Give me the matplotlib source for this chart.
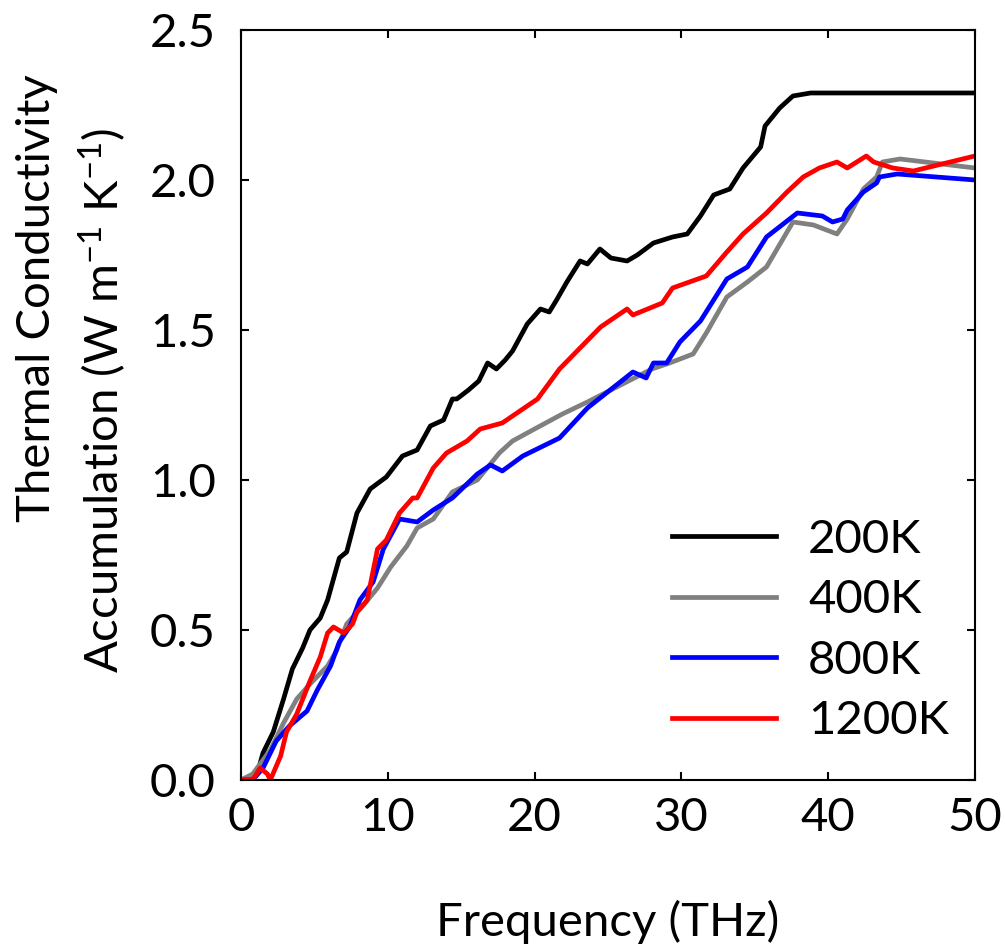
import matplotlib
matplotlib.use("Agg")
import matplotlib.pyplot as plt

plt.rcParams['font.family'] = ['Lato', 'DejaVu Sans']
plt.rcParams['mathtext.default'] = 'regular'

# 200K
x_200 = [0, 0.6, 1.1, 1.5, 2.2, 2.9, 3.5, 4.2, 4.7, 5.4, 5.9, 6.7, 7.2, 7.9, 8.8,
         9.9, 11.0, 12.0, 12.9, 13.8, 14.4, 14.7, 15.5, 16.2, 16.8, 17.4, 18.0,
         18.5, 19.5, 20.4, 21.0, 21.5, 22.2, 23.1, 23.6, 24.45, 25.2, 26.3, 27.0,
         28.1, 29.4, 30.4, 31.3, 32.2, 33.3, 34.2, 35.4, 35.7, 36.7, 37.6, 38.8,
         40, 45, 50]
y_200 = [0, 0, 0.02, 0.09, 0.16, 0.27, 0.37, 0.44, 0.50, 0.54, 0.60, 0.74, 0.76,
         0.89, 0.97, 1.01, 1.08, 1.10, 1.18, 1.20, 1.27, 1.27, 1.30, 1.33, 1.39,
         1.37, 1.40, 1.43, 1.52, 1.57, 1.56, 1.60, 1.66, 1.73, 1.72, 1.77, 1.74,
         1.73, 1.75, 1.79, 1.81, 1.82, 1.88, 1.95, 1.97, 2.04, 2.11, 2.18, 2.24,
         2.28, 2.29, 2.29, 2.29, 2.29]

# 400K
x_400 = [0, 0.8, 2.0, 2.9, 3.8, 4.7, 5.9, 6.5, 7.2, 8.3, 9.3, 10.2, 11.3, 12.0,
         13.1, 14.4, 16.1, 17.6, 18.5, 20.0, 21.9, 23.6, 26.0, 28.0, 29.2, 30.8,
         31.7, 33.1, 34.5, 35.8, 37.6, 39.0, 40.6, 41.3, 42.4, 43.3, 43.7, 44.9, 50]
y_400 = [0, 0.02, 0.10, 0.19, 0.27, 0.32, 0.38, 0.43, 0.52, 0.58, 0.64, 0.71,
         0.78, 0.84, 0.87, 0.96, 1.00, 1.09, 1.13, 1.17, 1.22, 1.26, 1.32, 1.37,
         1.39, 1.42, 1.49, 1.61, 1.66, 1.71, 1.86, 1.85, 1.82, 1.87, 1.97, 2.01,
         2.06, 2.07, 2.04]

# 800K
x_800 = [0, 0.8, 1.5, 2.4, 3.3, 4.5, 5.2, 6.1, 6.7, 7.4, 8.1, 9.0, 9.7, 10.8,
         12.0, 13.1, 14.4, 16.1, 17.0, 17.8, 19.2, 21.7, 23.6, 26.7, 27.6, 28.1,
         29.0, 29.9, 31.3, 33.1, 34.5, 35.8, 37.9, 39.6, 40.3, 41.0, 41.3, 42.4,
         43.3, 43.5, 44.7, 50]
y_800 = [0, 0, 0.04, 0.13, 0.18, 0.23, 0.30, 0.38, 0.46, 0.51, 0.60, 0.66, 0.77,
         0.87, 0.86, 0.90, 0.94, 1.02, 1.05, 1.03, 1.08, 1.14, 1.24, 1.36, 1.34,
         1.39, 1.39, 1.46, 1.53, 1.67, 1.71, 1.81, 1.89, 1.88, 1.86, 1.87, 1.90,
         1.96, 1.99, 2.01, 2.02, 2.00]

# 1200K
x_1200 = [0, 0.8, 1.3, 1.8, 2.0, 2.7, 3.1, 3.8, 4.7, 5.4, 5.9, 6.3, 7.0, 7.6,
          7.9, 8.6, 9.3, 9.9, 10.8, 11.7, 12.0, 13.1, 14.0, 15.4, 16.3, 17.8,
          19.0, 20.2, 21.7, 23.1, 24.5, 26.3, 26.7, 28.7, 29.4, 31.7, 33.1, 34.2,
          35.8, 37.2, 38.3, 39.4, 40.6, 41.3, 42.6, 43.1, 44.4, 45.8, 50]
y_1200 = [0, 0, 0.04, 0.02, 0.0, 0.08, 0.16, 0.22, 0.33, 0.41, 0.49, 0.51, 0.49,
          0.52, 0.56, 0.60, 0.77, 0.80, 0.89, 0.94, 0.94, 1.04, 1.09, 1.13, 1.17,
          1.19, 1.23, 1.27, 1.37, 1.44, 1.51, 1.57, 1.55, 1.59, 1.64, 1.68, 1.76,
          1.82, 1.89, 1.96, 2.01, 2.04, 2.06, 2.04, 2.08, 2.06, 2.04, 2.03, 2.08]

labels = ['200K', '400K', '800K', '1200K']
colors = ['#000000', '#808080', '#0000ff', '#ff0000']

fig = plt.figure(figsize=(10.05, 9.46), dpi=100)
ax = fig.add_axes([0.2398, 0.1755, 0.7303, 0.7928])

for xs, ys, lab, c in zip([x_200, x_400, x_800, x_1200],
                          [y_200, y_400, y_800, y_1200], labels, colors):
    ax.plot(xs, ys, color=c, lw=3.4, label=lab, solid_joinstyle='round')

ax.set_xlim(0, 50)
ax.set_ylim(0, 2.5)
ax.set_xticks([0, 10, 20, 30, 40, 50])
ax.set_yticks([0, 0.5, 1.0, 1.5, 2.0, 2.5])
ax.set_yticklabels(['0.0', '0.5', '1.0', '1.5', '2.0', '2.5'])
ax.tick_params(direction='in', length=6, width=1.5, labelsize=34,
               top=True, right=True)
ax.tick_params(axis='x', pad=12)
ax.tick_params(axis='y', pad=18)
for s in ax.spines.values():
    s.set_linewidth(1.5)

ax.set_xlabel('Frequency (THz)', fontsize=34, labelpad=44)
fig.text(0.037, 1 - 298 / 946, 'Thermal Conductivity', rotation=90,
         fontsize=34, ha='center', va='center')
fig.text(0.102, 1 - 400 / 946, 'Accumulation (W m$^{-1}$ K$^{-1}$)',
         rotation=90, fontsize=34, ha='center', va='center')

ax.legend(loc='lower right', frameon=False, fontsize=34, handlelength=2.2,
          handletextpad=0.68, labelspacing=0.39, borderaxespad=0.4,
          bbox_to_anchor=(1.016, 0.0))

fig.savefig('out.png', dpi=100)
